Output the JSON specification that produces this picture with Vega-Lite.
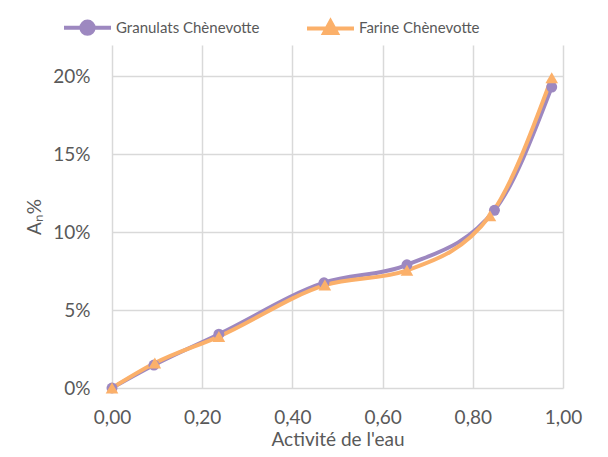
{
  "$schema": "https://vega.github.io/schema/vega-lite/v6.json",
  "width": 451,
  "height": 343,
  "autosize": {"type": "none"},
  "padding": {"left": 112, "top": 45, "right": 45, "bottom": 69},
  "background": "white",
  "config": {
    "view": {"stroke": null},
    "font": "Lato",
    "axis": {
      "labelFont": "Lato",
      "titleFont": "Lato",
      "labelColor": "#595959",
      "titleColor": "#595959",
      "labelFontSize": 19,
      "titleFontSize": 19,
      "titleFontWeight": "normal",
      "gridColor": "#d9d9d9",
      "gridWidth": 1.5,
      "domain": false,
      "ticks": false,
      "labelFlush": false
    }
  },
  "data": {
    "values": [
      {"aw": 0.0, "v": 0.0, "s": "Granulats Chènevotte"},
      {"aw": 0.093, "v": 0.0147, "s": "Granulats Chènevotte"},
      {"aw": 0.237, "v": 0.0345, "s": "Granulats Chènevotte"},
      {"aw": 0.47, "v": 0.0675, "s": "Granulats Chènevotte"},
      {"aw": 0.654, "v": 0.079, "s": "Granulats Chènevotte"},
      {"aw": 0.848, "v": 0.114, "s": "Granulats Chènevotte"},
      {"aw": 0.975, "v": 0.193, "s": "Granulats Chènevotte"},
      {"aw": 0.0, "v": 0.0, "s": "Farine Chènevotte"},
      {"aw": 0.095, "v": 0.016, "s": "Farine Chènevotte"},
      {"aw": 0.237, "v": 0.033, "s": "Farine Chènevotte"},
      {"aw": 0.472, "v": 0.066, "s": "Farine Chènevotte"},
      {"aw": 0.654, "v": 0.0755, "s": "Farine Chènevotte"},
      {"aw": 0.838, "v": 0.1105, "s": "Farine Chènevotte"},
      {"aw": 0.975, "v": 0.199, "s": "Farine Chènevotte"}
    ]
  },
  "encoding": {
    "x": {
      "field": "aw", "type": "quantitative",
      "scale": {"domain": [0, 1], "nice": false, "zero": false},
      "axis": {"values": [0, 0.2, 0.4, 0.6, 0.8, 1.0], "labelExpr": "replace(format(datum.value, '.2f'), '.', ',')", "title": "Activité de l'eau", "labelPadding": 20, "titlePadding": 3}
    },
    "y": {
      "field": "v", "type": "quantitative",
      "scale": {"domain": [0, 0.22], "nice": false},
      "axis": {"values": [0, 0.05, 0.1, 0.15, 0.2], "format": ".0%", "title": "Aₙ%", "labelPadding": 22, "titlePadding": 8}
    },
    "color": {
      "field": "s", "type": "nominal",
      "scale": {"domain": ["Granulats Chènevotte", "Farine Chènevotte"], "range": ["#9d88c0", "#fbb06a"]},
      "legend": {
        "orient": "none",
        "legendX": -50,
        "legendY": -43,
        "direction": "horizontal",
        "title": null,
        "labelFont": "Lato",
        "labelFontSize": 15,
        "labelColor": "#595959",
        "symbolSize": 2209,
        "symbolStrokeWidth": 4,
        "columnPadding": 39,
        "labelOffset": 3,
        "padding": 0,
        "rowPadding": 0,
        "encode": {
          "symbols": {
            "update": {
              "shape": {"signal": "datum.value == 'Granulats Chènevotte' ? 'M-1,0H1M0.26,0A0.26,0.26,0,1,1,-0.26,0A0.26,0.26,0,1,1,0.26,0Z' : 'M-1,0H1M0,-0.3L0.27,0.2L-0.27,0.2Z'"},
              "size": {"value": 2209},
              "stroke": {"signal": "datum.value == 'Granulats Chènevotte' ? '#9d88c0' : '#fbb06a'"},
              "fill": {"signal": "datum.value == 'Granulats Chènevotte' ? '#9d88c0' : '#fbb06a'"},
              "strokeWidth": {"value": 4},
              "opacity": {"value": 1}
            }
          }
        }
      }
    }
  },
  "layer": [
    {
      "mark": {"type": "line", "interpolate": "monotone", "strokeWidth": 4},
      "encoding": {"order": {"field": "aw"}}
    },
    {
      "transform": [{"filter": "datum.s == 'Granulats Chènevotte'"}],
      "mark": {"type": "point", "filled": true, "opacity": 1, "shape": "circle", "size": 120}
    },
    {
      "transform": [{"filter": "datum.s == 'Farine Chènevotte'"}],
      "mark": {"type": "point", "filled": true, "opacity": 1, "shape": "triangle-up", "size": 160}
    }
  ]
}
